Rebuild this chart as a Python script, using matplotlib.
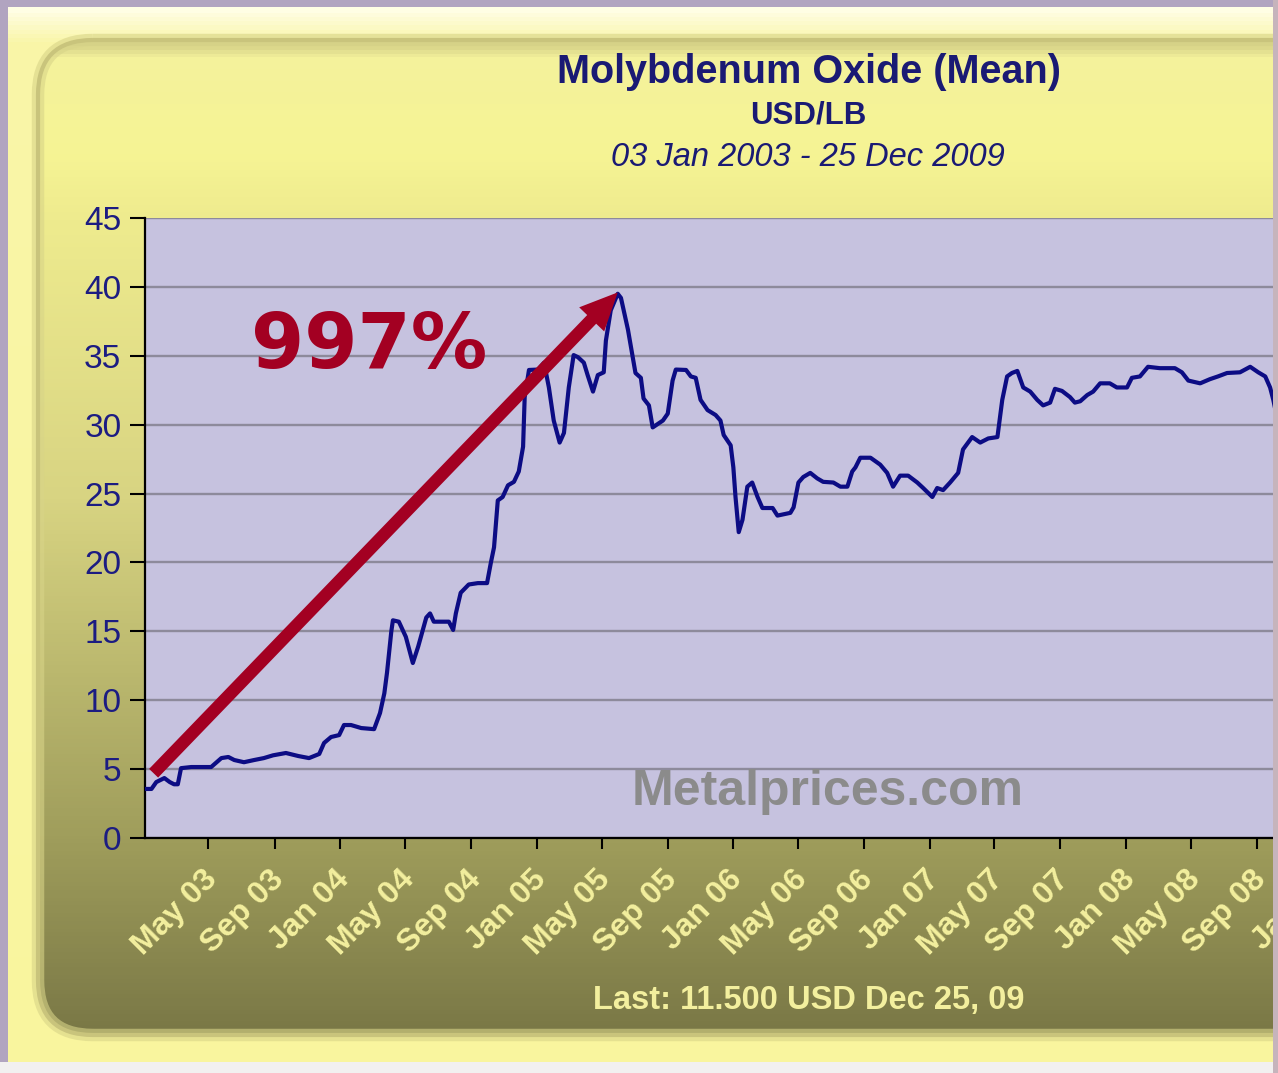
import matplotlib
matplotlib.use("Agg")
import matplotlib.pyplot as plt
import matplotlib.dates as mdates
import matplotlib.transforms as mtransforms
import numpy as np
import pandas as pd
from matplotlib.colors import LinearSegmentedColormap
from matplotlib.patches import FancyBboxPatch, Rectangle, FancyArrowPatch

# ---------------------------------------------------------------------------
# data (USD/lb, weekly mean)
# ---------------------------------------------------------------------------
dates = [
    "2003-01-03", "2003-01-15", "2003-01-24", "2003-02-08", "2003-02-18",
    "2003-02-26", "2003-03-05", "2003-03-11", "2003-03-30", "2003-05-06",
    "2003-05-25", "2003-06-07", "2003-06-18", "2003-07-06", "2003-07-25",
    "2003-08-12", "2003-08-29", "2003-09-22", "2003-10-15", "2003-11-04",
    "2003-11-23", "2003-12-02", "2003-12-15", "2003-12-30", "2004-01-08",
    "2004-01-21", "2004-02-09", "2004-03-04", "2004-03-15", "2004-03-23",
    "2004-03-28", "2004-04-05", "2004-04-08", "2004-04-19", "2004-05-02",
    "2004-05-15", "2004-05-25", "2004-06-09", "2004-06-16", "2004-06-23",
    "2004-07-21", "2004-07-29", "2004-08-03", "2004-08-12", "2004-08-27",
    "2004-09-13", "2004-09-30", "2004-10-07", "2004-10-13", "2004-10-20",
    "2004-10-29", "2004-11-08", "2004-11-19", "2004-11-28", "2004-12-06",
    "2004-12-09", "2004-12-17", "2005-01-03", "2005-01-14", "2005-01-23",
    "2005-02-01", "2005-02-12", "2005-02-20", "2005-03-01", "2005-03-10",
    "2005-03-18", "2005-03-29", "2005-04-05", "2005-04-15", "2005-04-24",
    "2005-05-05", "2005-05-09", "2005-05-18", "2005-05-31", "2005-06-06",
    "2005-06-19", "2005-07-03", "2005-07-13", "2005-07-18", "2005-07-28",
    "2005-08-04", "2005-08-23", "2005-09-01", "2005-09-10", "2005-09-16",
    "2005-10-05", "2005-10-14", "2005-10-23", "2005-11-01", "2005-11-14",
    "2005-11-29", "2005-12-08", "2005-12-14", "2005-12-27", "2006-01-01",
    "2006-01-05", "2006-01-11", "2006-01-18", "2006-01-27", "2006-02-05",
    "2006-02-15", "2006-02-24", "2006-03-15", "2006-03-24", "2006-04-17",
    "2006-04-23", "2006-05-02", "2006-05-11", "2006-05-24", "2006-06-06",
    "2006-06-17", "2006-07-06", "2006-07-19", "2006-08-01", "2006-08-10",
    "2006-08-16", "2006-08-25", "2006-09-13", "2006-10-01", "2006-10-14",
    "2006-10-25", "2006-11-07", "2006-11-22", "2006-12-09", "2006-12-20",
    "2007-01-06", "2007-01-15", "2007-01-26", "2007-02-08", "2007-02-23",
    "2007-03-04", "2007-03-21", "2007-04-05", "2007-04-20", "2007-05-07",
    "2007-05-16", "2007-05-25", "2007-06-03", "2007-06-13", "2007-06-24",
    "2007-07-07", "2007-07-20", "2007-07-31", "2007-08-13", "2007-08-22",
    "2007-09-04", "2007-09-19", "2007-09-28", "2007-10-08", "2007-10-21",
    "2007-11-01", "2007-11-14", "2007-12-02", "2007-12-15", "2008-01-03",
    "2008-01-12", "2008-01-27", "2008-02-11", "2008-03-04", "2008-04-01",
    "2008-04-14", "2008-04-26", "2008-05-18", "2008-06-05", "2008-06-20",
    "2008-07-07", "2008-07-31", "2008-08-19", "2008-09-03", "2008-09-16",
    "2008-09-25", "2008-10-01", "2008-10-08",
]
prices = [
    3.56, 3.56, 4.06, 4.35, 4.06,
    3.90, 3.90, 5.07, 5.15, 5.15,
    5.80, 5.88, 5.66, 5.50, 5.66,
    5.80, 6.00, 6.17, 5.95, 5.80,
    6.10, 6.90, 7.33, 7.47, 8.20,
    8.20, 7.98, 7.90, 9.07, 10.50,
    12.00, 15.00, 15.80, 15.70, 14.60,
    12.70, 13.90, 16.00, 16.30, 15.70,
    15.70, 15.10, 16.30, 17.80, 18.40,
    18.50, 18.50, 19.96, 21.10, 24.50,
    24.75, 25.60, 25.85, 26.60, 28.40,
    32.00, 33.97, 34.00, 34.50, 32.70,
    30.30, 28.70, 29.40, 32.70, 35.05,
    34.90, 34.50, 33.60, 32.40, 33.60,
    33.80, 36.10, 38.30, 39.50, 39.20,
    36.90, 33.75, 33.40, 31.90, 31.40,
    29.80, 30.30, 30.80, 33.20, 34.00,
    33.97, 33.50, 33.40, 31.80, 31.06,
    30.70, 30.30, 29.25, 28.50, 26.90,
    24.75, 22.20, 23.10, 25.50, 25.80,
    24.75, 23.95, 23.95, 23.40, 23.60,
    24.00, 25.80, 26.20, 26.50, 26.10,
    25.85, 25.80, 25.50, 25.50, 26.60,
    26.90, 27.60, 27.60, 27.10, 26.50,
    25.50, 26.30, 26.30, 25.80, 25.40,
    24.75, 25.40, 25.25, 25.80, 26.50,
    28.20, 29.10, 28.70, 29.00, 29.10,
    31.80, 33.50, 33.75, 33.90, 32.70,
    32.40, 31.80, 31.40, 31.60, 32.60,
    32.45, 32.00, 31.60, 31.70, 32.15,
    32.40, 33.00, 33.00, 32.70, 32.70,
    33.40, 33.50, 34.20, 34.10, 34.10,
    33.80, 33.20, 33.00, 33.30, 33.50,
    33.75, 33.80, 34.20, 33.80, 33.50,
    32.70, 31.80, 30.50,
]
y_ticks = [0, 5, 10, 15, 20, 25, 30, 35, 40, 45]

title = "Molybdenum Oxide (Mean)"
unit = "USD/LB"
period = "03 Jan 2003 - 25 Dec 2009"
last_note = "Last: 11.500 USD Dec 25, 09"
gain_label = "997%"
watermark = "Metalprices.com"

# arrow drawn over the chart: from the 2003 low to the 2005 peak
arrow_from = ("2003-01-19", 4.7)
arrow_to = ("2005-05-31", 39.6)

# the source screenshot is cut off on the right around Oct 2008; the axes
# run a bit past the image edge so the clipped "Jan 09" label shows
x_start, x_end = "2003-01-03", "2009-02-02"

NAVY = "#1a1a74"
LABEL_YELLOW = "#f3ef9e"
ARROW_RED = "#a30022"
FONT = "Liberation Sans"

# ---------------------------------------------------------------------------
# figure + decorative background (pixel coordinates)
# ---------------------------------------------------------------------------
W, H = 1278, 1073
fig = plt.figure(figsize=(W / 100, H / 100), dpi=100)
fig.patch.set_facecolor("#b1a4c0")

bg = fig.add_axes([0, 0, 1, 1], zorder=0)
bg.set_axis_off()

bg.add_patch(Rectangle((0, 1062), W, 20, facecolor="#f2f0f0", lw=0))

# outer light-yellow frame
outer = Rectangle((8, 7), 1265, 1055, facecolor="none", lw=0)
bg.add_patch(outer)
outer_cmap = LinearSegmentedColormap.from_list(
    "outer", [(0, "#fffee4"), (0.03, "#f9f6a8"), (1, "#f9f59e")])
bg.imshow(np.linspace(0, 1, 256)[:, None], extent=(8, 1273, 1062, 7),
          cmap=outer_cmap, aspect="auto", interpolation="bicubic",
          clip_path=outer, zorder=1)

# inner rounded panel, yellow fading to olive, with a soft darker rim
rim = FancyBboxPatch((38, 40), 1320, 995,
                     boxstyle="round,pad=0,rounding_size=55",
                     facecolor="none", edgecolor="#d8d488", lw=9,
                     alpha=0.6, zorder=3)
bg.add_patch(rim)
panel = FancyBboxPatch((38, 40), 1320, 995,
                       boxstyle="round,pad=0,rounding_size=55",
                       facecolor="none", edgecolor="#c9c47c", lw=3, zorder=3)
bg.add_patch(panel)
panel_cmap = LinearSegmentedColormap.from_list(
    "panel", [(0, "#d4d086"), (0.015, "#f4f29c"), (0.11, "#f6f494"),
              (0.18, "#eeeb8e"), (0.46, "#d8d482"), (0.80, "#a09e5c"),
              (1, "#7a7846")])
bg.imshow(np.linspace(0, 1, 256)[:, None], extent=(38, 1358, 1035, 40),
          cmap=panel_cmap, aspect="auto", interpolation="bicubic",
          clip_path=panel, zorder=2)

bg.set_xlim(0, W)
bg.set_ylim(H, 0)

bg.text(809, 72, title, ha="center", va="center", fontsize=28.5,
        fontweight="bold", family=FONT, color=NAVY, zorder=5)
bg.text(808, 116, unit, ha="center", va="center", fontsize=22.5,
        fontweight="bold", family=FONT, color=NAVY, zorder=5)
bg.text(808, 158, period, ha="center", va="center", fontsize=23.5,
        style="italic", family=FONT, color=NAVY, zorder=5)
bg.text(809, 1000, last_note, ha="center", va="center", fontsize=23.5,
        fontweight="bold", family=FONT, color=LABEL_YELLOW, zorder=5)

# ---------------------------------------------------------------------------
# price chart
# ---------------------------------------------------------------------------
ax = fig.add_axes([145 / W, (H - 838) / H, (1340 - 145) / W, (838 - 218) / H],
                  zorder=1)
ax.set_facecolor("#c6c2df")

x = pd.to_datetime(dates)
ax.plot(x, prices, color="#0c0c84", lw=3.0, zorder=3, solid_joinstyle="round")

ax.set_xlim(pd.Timestamp(x_start), pd.Timestamp(x_end))
ax.set_ylim(0, 45)
ax.set_yticks(y_ticks)
ax.yaxis.grid(True, color="#8d8a9b", lw=1.7)
ax.set_axisbelow(True)

ax.xaxis.set_major_locator(mdates.MonthLocator(bymonth=[1, 5, 9]))
ax.xaxis.set_major_formatter(mdates.DateFormatter("%b %y"))

for side in ("top", "right"):
    ax.spines[side].set_visible(False)
for side in ("left", "bottom"):
    ax.spines[side].set_linewidth(1.6)
    ax.spines[side].set_color("black")

ax.tick_params(axis="y", length=11, width=1.5, pad=6, labelsize=24,
               labelcolor="#1c1c82")
ax.tick_params(axis="x", length=8, width=1.5, pad=11, labelsize=23,
               labelcolor=LABEL_YELLOW)
plt.setp(ax.get_yticklabels(), family=FONT)
shift = mtransforms.ScaledTranslation(-0.06, 0, fig.dpi_scale_trans)
for lab in ax.get_xticklabels():
    lab.set(rotation=45, ha="right", va="top", rotation_mode="anchor",
            fontweight="bold", family=FONT)
    lab.set_transform(lab.get_transform() + shift)

ax.text(0.5716, 0.053, watermark, transform=ax.transAxes, ha="center",
        va="baseline", fontsize=36, fontweight="bold",
        family=FONT, color="#8b8b8b", zorder=2)

# the overlay annotation
arrow = FancyArrowPatch(
    (mdates.date2num(pd.Timestamp(arrow_from[0])), arrow_from[1]),
    (mdates.date2num(pd.Timestamp(arrow_to[0])), arrow_to[1]),
    arrowstyle="simple,head_length=1.35,head_width=1.25,tail_width=0.45",
    mutation_scale=20, color=ARROW_RED, lw=0, zorder=4,
    shrinkA=0, shrinkB=0)
ax.add_patch(arrow)
ax.text(0.1874, 0.758, gain_label, transform=ax.transAxes, ha="center",
        va="baseline", fontsize=55, fontweight="bold", family="DejaVu Sans",
        color=ARROW_RED, zorder=5)

# right-hand border of the screenshot, drawn over everything
fig.add_artist(Rectangle((1273 / W, 0), 10 / W, 1, transform=fig.transFigure,
                         facecolor="#c6b4bc", lw=0, zorder=10))

fig.savefig("out.png", dpi=100)
